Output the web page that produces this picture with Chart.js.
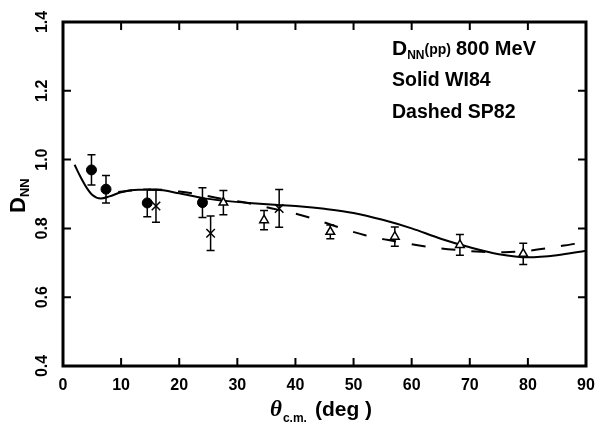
<!DOCTYPE html>
<html>
<head>
<meta charset="utf-8">
<script src="https://cdn.jsdelivr.net/npm/chart.js@4.4.1/dist/chart.umd.min.js"></script>
<style>
html,body{margin:0;padding:0;background:#fff;}
#wrap{width:596px;height:428px;}
</style>
</head>
<body>
<div id="wrap"><canvas id="c" width="596" height="428"></canvas></div>
<script>
// ---- data ----
const xTicks = [0, 10, 20, 30, 40, 50, 60, 70, 80, 90];
const yTicks = [0.4, 0.6, 0.8, 1.0, 1.2, 1.4];
const yTickLabels = ['0.4', '0.6', '0.8', '1.0', '1.2', '1.4'];

const circX = [4.9, 7.4, 14.5, 24.0];
const circY = [0.970, 0.914, 0.874, 0.875];
const circErr = [0.044, 0.040, 0.040, 0.043];

const crossX = [16.0, 25.4, 37.2];
const crossY = [0.865, 0.786, 0.858];
const crossErr = [0.047, 0.050, 0.055];

const triX = [27.6, 34.6, 46.0, 57.1, 68.3, 79.2];
const triY = [0.875, 0.824, 0.790, 0.776, 0.752, 0.726];
const triErr = [0.035, 0.028, 0.020, 0.028, 0.030, 0.031];

const solidX = [2, 3, 4, 5, 6.5, 8, 10, 13, 16, 20, 24, 28, 32, 37, 41, 45, 50, 55, 60, 65, 70, 75, 80, 85, 90];
const solidY = [0.985, 0.950, 0.920, 0.898, 0.887, 0.893, 0.905, 0.912, 0.912, 0.902, 0.888, 0.880, 0.874, 0.868, 0.864, 0.857, 0.845, 0.825, 0.800, 0.770, 0.745, 0.725, 0.716, 0.722, 0.735];

const dashX = [9.5, 12, 16, 20, 24, 28, 32, 36, 40, 44, 48, 52, 56, 60, 64, 68, 72, 76, 80, 84, 88, 90];
const dashY = [0.906, 0.910, 0.913, 0.907, 0.897, 0.884, 0.873, 0.858, 0.843, 0.823, 0.800, 0.780, 0.766, 0.754, 0.744, 0.737, 0.732, 0.731, 0.735, 0.744, 0.755, 0.760];

const titleLines = ['Solid WI84', 'Dashed SP82'];

// ---- build datasets ----
const pts = (xs, ys) => xs.map((x, i) => ({x: x, y: ys[i]}));
const errBars = [
  {xs: circX, ys: circY, es: circErr},
  {xs: crossX, ys: crossY, es: crossErr},
  {xs: triX, ys: triY, es: triErr}
];

const SANS = '"Liberation Sans", Arial, sans-serif';

const decor = {
  id: 'decor',
  beforeDatasetsDraw(chart) {
    const ctx = chart.ctx, xs = chart.scales.x, ys = chart.scales.y;
    ctx.save();
    ctx.strokeStyle = '#000';
    ctx.lineWidth = 1.5;
    errBars.forEach(g => {
      g.xs.forEach((x, i) => {
        const px = xs.getPixelForValue(x);
        const top = ys.getPixelForValue(g.ys[i] + g.es[i]);
        const bot = ys.getPixelForValue(g.ys[i] - g.es[i]);
        ctx.beginPath();
        ctx.moveTo(px, top); ctx.lineTo(px, bot);
        ctx.moveTo(px - 4, top); ctx.lineTo(px + 4, top);
        ctx.moveTo(px - 4, bot); ctx.lineTo(px + 4, bot);
        ctx.stroke();
      });
    });
    ctx.restore();
  },
  afterDraw(chart) {
    const ctx = chart.ctx, xs = chart.scales.x, ys = chart.scales.y;
    const a = chart.chartArea;
    ctx.save();
    ctx.fillStyle = '#000';
    ctx.strokeStyle = '#000';
    // ticks (inward, all four sides)
    ctx.lineWidth = 2;
    ctx.beginPath();
    xTicks.forEach(v => {
      const px = xs.getPixelForValue(v);
      ctx.moveTo(px, a.bottom); ctx.lineTo(px, a.bottom - 8);
      ctx.moveTo(px, a.top); ctx.lineTo(px, a.top + 8);
    });
    yTicks.forEach(v => {
      const py = ys.getPixelForValue(v);
      ctx.moveTo(a.left, py); ctx.lineTo(a.left + 8, py);
      ctx.moveTo(a.right, py); ctx.lineTo(a.right - 8, py);
    });
    ctx.stroke();
    // frame
    ctx.lineWidth = 3;
    ctx.strokeRect(a.left, a.top, a.right - a.left, a.bottom - a.top);

    // x tick labels
    ctx.font = 'bold 16px ' + SANS;
    ctx.textAlign = 'center';
    ctx.textBaseline = 'middle';
    xTicks.forEach(v => {
      ctx.fillText(String(v), xs.getPixelForValue(v), 386);
    });
    // y tick labels rotated
    yTicks.forEach((v, i) => {
      ctx.save();
      ctx.translate(43, ys.getPixelForValue(v));
      ctx.rotate(-Math.PI / 2);
      ctx.fillText(yTickLabels[i], 0, 0);
      ctx.restore();
    });

    // y axis title D_NN rotated
    ctx.save();
    ctx.translate(25, 213);
    ctx.rotate(-Math.PI / 2);
    ctx.textAlign = 'left';
    ctx.textBaseline = 'alphabetic';
    ctx.font = 'bold 22px ' + SANS;
    ctx.fillText('D', 0, 0);
    let w = ctx.measureText('D').width;
    ctx.font = 'bold 13px ' + SANS;
    ctx.fillText('NN', w, 4);
    ctx.restore();

    // x axis title theta_c.m. (deg)
    ctx.textAlign = 'left';
    ctx.textBaseline = 'alphabetic';
    let x0 = 270;
    ctx.font = 'italic bold 23px "Liberation Serif", serif';
    ctx.fillText('\u03B8', x0, 416);
    x0 += ctx.measureText('\u03B8').width + 1;
    ctx.font = 'bold 12px ' + SANS;
    ctx.fillText('c.m.', x0, 422);
    x0 += ctx.measureText('c.m.').width + 8;
    ctx.font = 'bold 21px ' + SANS;
    ctx.fillText('(deg )', x0, 416);

    // annotation
    let tx = 392;
    ctx.font = 'bold 21px ' + SANS;
    ctx.fillText('D', tx, 55);
    tx += ctx.measureText('D').width;
    ctx.font = 'bold 12px ' + SANS;
    ctx.fillText('NN', tx, 59);
    tx += ctx.measureText('NN').width;
    ctx.font = 'bold 14px ' + SANS;
    ctx.fillText('(pp)', tx, 54);
    tx += ctx.measureText('(pp)').width + 5;
    ctx.font = 'bold 20px ' + SANS;
    ctx.fillText('800 MeV', tx, 55);
    ctx.font = 'bold 19.5px ' + SANS;
    ctx.fillText(titleLines[0], 392, 86);
    ctx.fillText(titleLines[1], 392, 118);
    ctx.restore();
  }
};

new Chart(document.getElementById('c'), {
  type: 'scatter',
  data: {
    datasets: [
      {label: 'Solid WI84', type: 'line', data: pts(solidX, solidY), borderColor: '#000', borderWidth: 2,
       pointRadius: 0, fill: false, cubicInterpolationMode: 'monotone', order: 5},
      {label: 'Dashed SP82', type: 'line', data: pts(dashX, dashY), borderColor: '#000', borderWidth: 2,
       borderDash: [14, 16], pointRadius: 0, fill: false, cubicInterpolationMode: 'monotone', order: 4},
      {label: 'circles', data: pts(circX, circY), pointStyle: 'circle', pointRadius: 5,
       backgroundColor: '#000', borderColor: '#000', borderWidth: 1, order: 1},
      {label: 'crosses', data: pts(crossX, crossY), pointStyle: 'crossRot', pointRadius: 6,
       backgroundColor: '#000', borderColor: '#000', borderWidth: 1.5, order: 1},
      {label: 'triangles', data: pts(triX, triY), pointStyle: 'triangle', pointRadius: 5,
       backgroundColor: '#fff', borderColor: '#000', borderWidth: 1.5, order: 1}
    ]
  },
  options: {
    responsive: false,
    animation: false,
    layout: {padding: {left: 63, right: 10, top: 22, bottom: 62}},
    plugins: {legend: {display: false}, tooltip: {enabled: false}},
    scales: {
      x: {type: 'linear', min: 0, max: 90, display: false},
      y: {type: 'linear', min: 0.4, max: 1.4, display: false}
    }
  },
  plugins: [decor]
});
</script>
</body>
</html>
